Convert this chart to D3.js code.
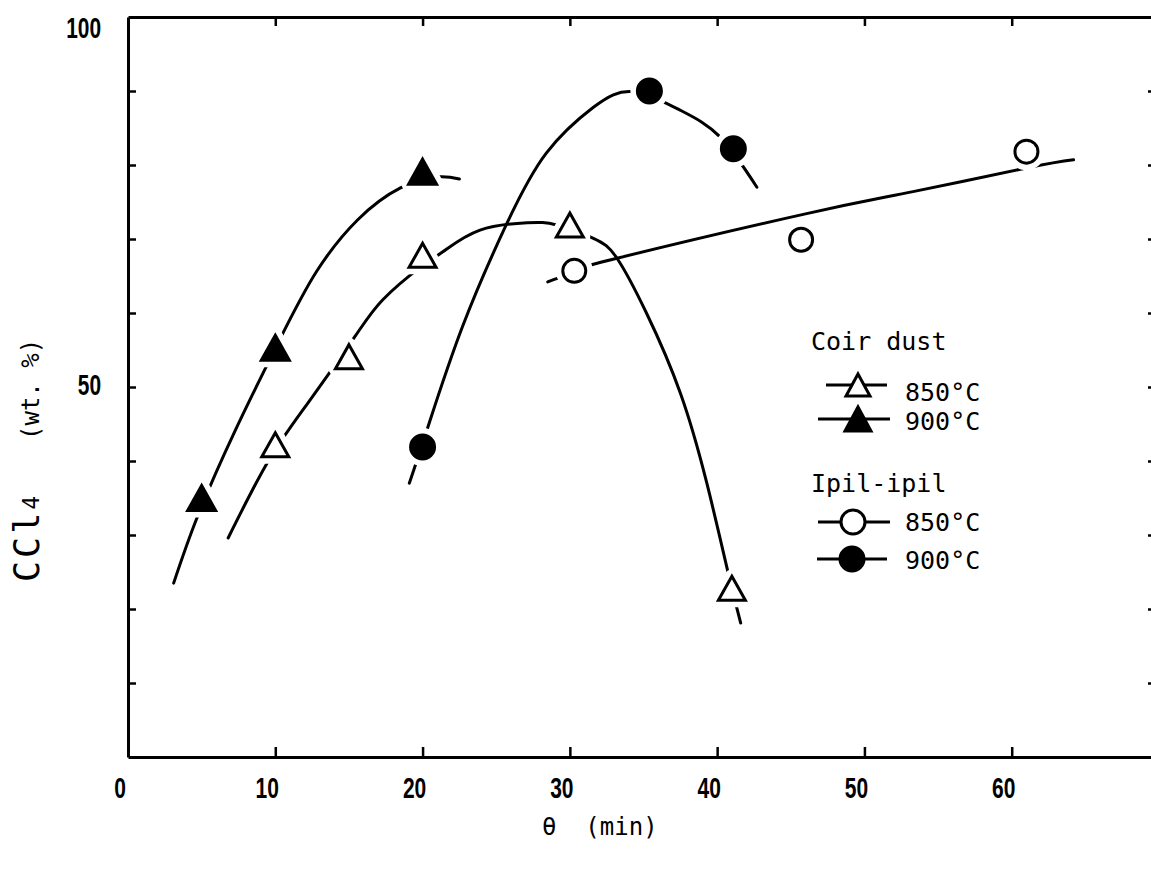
<!DOCTYPE html>
<html>
<head>
<meta charset="utf-8">
<script src="https://cdn.jsdelivr.net/npm/d3@7"></script>
<style>
  body { margin: 0; background: #fff; }
  svg { display: block; }
</style>
</head>
<body>
<svg></svg>
<script>
// --- data ---
var xTickValues = [10, 20, 30, 40, 50, 60];
var xTickLabels = [0, 10, 20, 30, 40, 50, 60];
var yTickValues = [10, 20, 30, 40, 50, 60, 70, 80, 90];
var yTickLabels = [100, 50];

// measured points (theta in min, CCl4 wt. %)
var coir850X = [10, 15, 20, 30, 41];
var coir850Y = [42.2, 54.1, 67.8, 71.9, 22.8];
var coir900X = [5, 10, 20];
var coir900Y = [35.0, 55.3, 79.1];
var ipil850X = [30.3, 45.7, 61.0];
var ipil850Y = [65.7, 69.9, 81.8];
var ipil900X = [20, 35.4, 41.1];
var ipil900Y = [41.9, 90.0, 82.2];

// hand-drawn fitted curves
var coir850Fit = [[6.8, 29.6], [9.5, 39.9], [12.2, 47.8], [15.4, 56.8], [17.3, 61.8], [19.8, 66.1],
  [21.4, 68.3], [23.9, 71.2], [27.1, 72.2], [29.1, 71.9], [31.6, 70.1], [33.2, 67.4],
  [35.2, 60.0], [37.5, 49.2], [39.3, 37.0], [40.7, 25.3], [41.6, 18.1]];
var coir900Fit = [[3.1, 23.5], [4.7, 32.4], [7.3, 44.2], [10.3, 56.4], [12.8, 65.6],
  [15.6, 72.6], [18.5, 76.9], [21.0, 78.4], [22.5, 78.1]];
var ipil850Fit = [[28.5, 64.2], [30.4, 65.7], [33.2, 67.4], [46.0, 73.4], [53.3, 76.4],
  [61.0, 79.6], [64.2, 80.7]];
var ipil900Fit = [[19.1, 37.0], [20.3, 44.2], [22.7, 58.1], [25.7, 72.0], [28.4, 81.6],
  [31.6, 87.8], [34.3, 89.9], [37.5, 87.4], [40.2, 83.8], [42.7, 77.0]];

var legendTitles = ["Coir dust", "Ipil-ipil"];
var legendLabels = ["850°C", "900°C", "850°C", "900°C"];

var width = 1151, height = 869;

var svg = d3.select("svg")
    .attr("width", width)
    .attr("height", height);

var x = d3.scaleLinear().domain([0, 70]).range([128, 1159]);
var y = d3.scaleLinear().domain([0, 100]).range([757, 17]);

// --- frame and ticks (ticks point inwards) ---
function styleAxis(g) {
  g.selectAll("path").attr("stroke", "#000").attr("stroke-width", 3);
  g.selectAll("line").attr("stroke", "#000").attr("stroke-width", 2.5);
  g.selectAll("text").remove();
}

svg.append("g")
    .attr("transform", "translate(0," + y(0) + ")")
    .call(d3.axisBottom(x).tickValues(xTickValues).tickSizeInner(-10).tickSizeOuter(0))
    .call(styleAxis);

svg.append("g")
    .attr("transform", "translate(0," + y(100) + ")")
    .call(d3.axisTop(x).tickValues(xTickValues).tickSizeInner(-9).tickSizeOuter(0))
    .call(styleAxis);

svg.append("g")
    .attr("transform", "translate(" + x(0) + ",0)")
    .call(d3.axisLeft(y).tickValues(yTickValues).tickSizeInner(-8).tickSizeOuter(0))
    .call(styleAxis);

svg.append("g")
    .attr("transform", "translate(" + x(70) + ",0)")
    .call(d3.axisRight(y).tickValues(yTickValues).tickSizeInner(-11).tickSizeOuter(0))
    .call(styleAxis);

// tick labels (condensed, bold digits)
svg.append("g").selectAll("text")
  .data(xTickLabels)
  .enter().append("text")
    .attr("transform", function(d) { return "translate(" + (x(d) - 8) + ",798) scale(0.7,1)"; })
    .attr("text-anchor", "middle")
    .style("font-family", "Liberation Sans, Arial, sans-serif")
    .style("font-weight", "bold")
    .style("font-size", "30px")
    .text(function(d) { return d; });

svg.append("g").selectAll("text")
  .data(yTickLabels)
  .enter().append("text")
    .attr("transform", function(d) {
      var ty = d === 100 ? y(d) + 21 : y(d) + 8;
      return "translate(101," + ty + ") scale(0.72,1)";
    })
    .attr("text-anchor", "end")
    .style("font-family", "Liberation Sans, Arial, sans-serif")
    .style("font-weight", "bold")
    .style("font-size", "29px")
    .text(function(d) { return d; });

// axis titles
var mono = "DejaVu Sans Mono, Liberation Mono, monospace";

svg.append("text")
    .attr("x", 542)
    .attr("y", 835)
    .style("font-family", mono)
    .style("font-size", "24px")
    .attr("xml:space", "preserve")
    .text("θ  (min)");

var ytitle = svg.append("text")
    .attr("transform", "translate(39,582) rotate(-90)")
    .attr("xml:space", "preserve")
    .style("font-family", mono);
ytitle.append("tspan").style("font-size", "35px").style("letter-spacing", "3px").text("CCl");
ytitle.append("tspan").style("font-size", "23px").text("4");
ytitle.append("tspan").attr("x", 142).style("font-size", "24px").text("(wt. %)");

// --- fitted curves ---
var line = d3.line()
    .x(function(d) { return x(d[0]); })
    .y(function(d) { return y(d[1]); })
    .curve(d3.curveNatural);

[coir850Fit, coir900Fit, ipil850Fit, ipil900Fit].forEach(function(fit) {
  svg.append("path")
      .datum(fit)
      .attr("d", line)
      .attr("fill", "none")
      .attr("stroke", "#000")
      .attr("stroke-width", 3)
      .attr("stroke-linecap", "round");
});

// --- markers ---
function triPath(w, h) {
  return "M0," + (-h / 2) + "L" + (w / 2) + "," + (h / 2) + "L" + (-w / 2) + "," + (h / 2) + "Z";
}
function circlePath(r) {
  return d3.arc()({ innerRadius: 0, outerRadius: r, startAngle: 0, endAngle: 2 * Math.PI });
}

var series = [
  { xs: coir850X, ys: coir850Y, shape: triPath(27, 24), filled: false },
  { xs: coir900X, ys: coir900Y, shape: triPath(28, 25), filled: true },
  { xs: ipil850X, ys: ipil850Y, shape: circlePath(11.5), filled: false },
  { xs: ipil900X, ys: ipil900Y, shape: circlePath(12), filled: true }
];

// white halos that cut gaps into the curves around each marker
series.forEach(function(s) {
  svg.append("g").selectAll("path")
    .data(d3.range(s.xs.length))
    .enter().append("path")
      .attr("transform", function(i) { return "translate(" + x(s.xs[i]) + "," + y(s.ys[i]) + ")"; })
      .attr("d", s.shape)
      .attr("fill", "#fff")
      .attr("stroke", "#fff")
      .attr("stroke-width", 14)
      .attr("stroke-linejoin", "round");
});

series.forEach(function(s) {
  svg.append("g").selectAll("path")
    .data(d3.range(s.xs.length))
    .enter().append("path")
      .attr("transform", function(i) { return "translate(" + x(s.xs[i]) + "," + y(s.ys[i]) + ")"; })
      .attr("d", s.shape)
      .attr("fill", s.filled ? "#000" : "#fff")
      .attr("stroke", "#000")
      .attr("stroke-width", 3)
      .attr("stroke-linejoin", "miter");
});

// --- legend ---
var legend = svg.append("g");
var titleY = [350, 492];
legend.selectAll("text.title")
  .data(legendTitles)
  .enter().append("text")
    .attr("class", "title")
    .attr("x", 811)
    .attr("y", function(d, i) { return titleY[i]; })
    .style("font-family", mono)
    .style("font-size", "25px")
    .text(function(d) { return d; });

var rowY = [385, 419, 522, 559];
var rowTextY = [401, 430, 531, 569];
var rowShapes = [triPath(24, 22), triPath(26, 24), circlePath(12), circlePath(12)];
var rowFilled = [false, true, false, true];
var rowLine = [[826, 887], [818, 890], [818, 890], [817, 887]];
var rowMarkX = [858, 858, 853, 852];

legendLabels.forEach(function(lab, i) {
  legend.append("line")
      .attr("x1", rowLine[i][0]).attr("x2", rowLine[i][1])
      .attr("y1", rowY[i]).attr("y2", rowY[i])
      .attr("stroke", "#000").attr("stroke-width", 3);
  legend.append("path")
      .attr("transform", "translate(" + rowMarkX[i] + "," + rowY[i] + ")")
      .attr("d", rowShapes[i])
      .attr("fill", rowFilled[i] ? "#000" : "#fff")
      .attr("stroke", "#000")
      .attr("stroke-width", 3);
  legend.append("text")
      .attr("x", 905)
      .attr("y", rowTextY[i])
      .style("font-family", mono)
      .style("font-size", "25px")
      .text(lab);
});
</script>
</body>
</html>
